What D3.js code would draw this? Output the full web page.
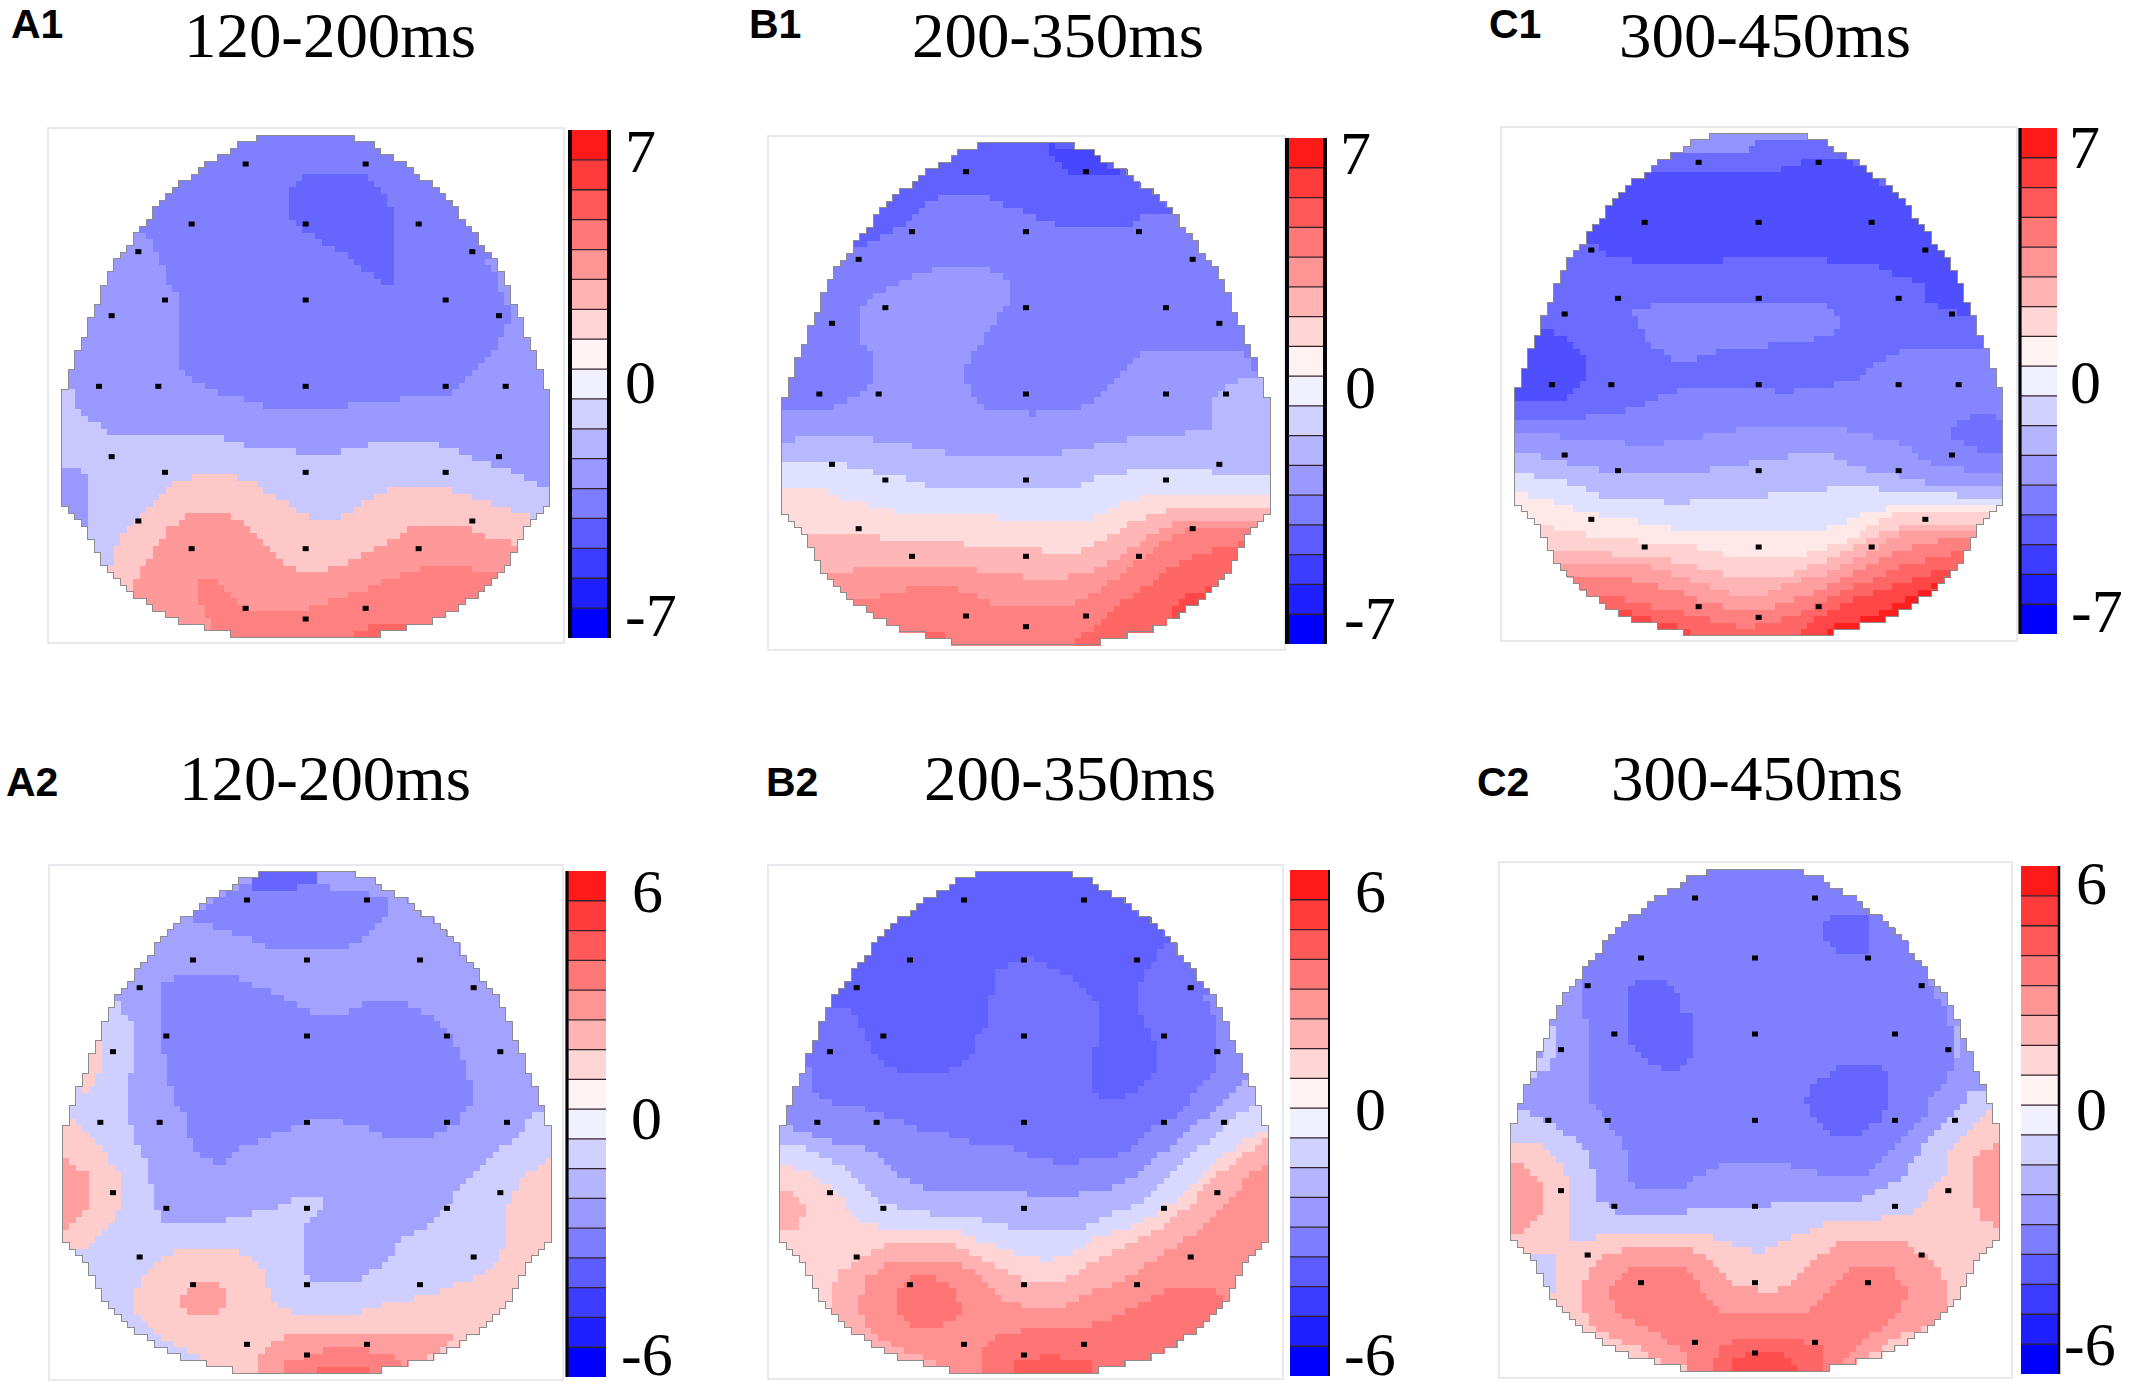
<!DOCTYPE html>
<html><head><meta charset="utf-8">
<script src="https://cdn.jsdelivr.net/npm/d3@7"></script>
<style>html,body{margin:0;padding:0;background:#fff;overflow:hidden}svg{display:block}</style>
</head><body><svg id="chart" width="2132" height="1390"></svg>
<script>
// ---------- values ----------
const panelIds = ["A1","B1","C1","A2","B2","C2"];
const panelTitles = ["120-200ms","200-350ms","300-450ms","120-200ms","200-350ms","300-450ms"];
const scaleTop = ["7","7","7","6","6","6"];
const scaleMid = ["0","0","0","0","0","0"];
const scaleBottom = ["-7","-7","-7","-6","-6","-6"];
// colour bar steps, % of scale maximum, top to bottom
const barLevels = [90,77,65,53,42,30,16,5,-6,-18,-29,-40,-51,-64,-76,-88,-100];
// scalp outline: [distance from vertex, half width]
const headOutline = [[0,89],[17,170],[33,210],[50,230],[82,292],[115,332],[165,389],[225,449],[255,469],[305,509],[340,529],[390,571],[420,590],[470,610],[520,630],[585,652],[615,670],[665,690],[730,710],[810,734],[1085,734],[1125,712],[1165,670],[1225,632],[1280,610],[1325,570],[1380,510],[1410,470],[1455,387],[1480,297],[1507,192]];
// electrodes: [offset from midline, distance from vertex]
const electrodes = [[-180,87],[180,87],[-342,267],[0,267],[339,267],[-502,350],[500,350],[-422,495],[0,495],[420,495],[-582,542],[580,542],[-620,754],[-442,754],[0,754],[420,754],[600,754],[-582,965],[580,965],[-422,1012],[0,1012],[420,1012],[-502,1158],[500,1158],[-342,1241],[0,1241],[339,1241],[-180,1420],[180,1420],[0,1452]];

// potential bands, painted in order: level in % of scale maximum and contour in scalp-plane units
const baseA1 = -40;
const bandsA1 = [
 [-50,[[100,310],[297,300],[297,330],[320,380],[355,420],[355,465],[378,480],[378,700],[420,745],[480,780],[555,800],[620,825],[740,838],[895,838],[895,825],[1035,825],[1035,810],[1195,790],[1260,740],[1320,680],[1355,620],[1360,590],[1378,575],[1378,535],[1355,510],[1350,440],[1300,390],[1400,400],[1400,-50],[100,-50]]],
 [-60,[[717,180],[760,145],[800,128],[915,128],[960,150],[1005,195],[1035,260],[1035,465],[1000,465],[960,430],[900,385],[840,350],[780,310],[717,265]]],
 [-21.5,[[0,770],[75,780],[75,830],[115,870],[155,890],[195,920],[515,920],[520,940],[735,955],[735,970],[875,970],[875,955],[1000,940],[1175,940],[1180,955],[1240,965],[1280,990],[1350,1010],[1440,1050],[1490,1070],[1560,1075],[1560,1600],[0,1600]]],
 [-40,[[33,1005],[70,1005],[100,1030],[113,1050],[113,1180],[75,1180],[33,1100]]],
 [21.5,[[175,1330],[195,1270],[215,1220],[260,1170],[310,1120],[350,1075],[400,1050],[450,1035],[550,1035],[620,1065],[680,1100],[730,1130],[780,1165],[870,1165],[925,1125],[980,1090],[1040,1070],[1175,1070],[1260,1095],[1330,1125],[1400,1145],[1440,1160],[1500,1170],[1500,1600],[100,1600],[100,1400]]],
 [40,[[250,1380],[275,1310],[320,1250],[355,1195],[400,1165],[440,1150],[530,1150],[590,1185],[640,1235],[680,1275],[720,1310],[780,1330],[815,1325],[890,1300],[960,1265],[1010,1240],[1060,1205],[1140,1180],[1240,1185],[1310,1220],[1380,1240],[1500,1240],[1500,1600],[200,1600]]],
 [50,[[435,1400],[435,1365],[465,1345],[495,1345],[530,1380],[560,1415],[590,1445],[750,1445],[840,1410],[940,1380],[1040,1340],[1120,1310],[1260,1310],[1300,1330],[1400,1330],[1400,1600],[490,1600],[480,1480],[470,1440]]],
 [60,[[895,1522],[940,1495],[1000,1475],[1115,1475],[1115,1600],[895,1600]]]
];
const baseB1 = -50;
const bandsB1 = [
 [-62,[[200,360],[255,350],[300,335],[380,300],[420,265],[480,215],[560,185],[620,185],[680,210],[720,230],[790,255],[840,280],[900,295],[1060,295],[1120,262],[1160,262],[1500,200],[1500,-50],[100,-50]]],
 [-72,[[840,40],[860,55],[935,55],[975,72],[1010,100],[1060,130],[1060,135],[900,135],[860,90],[840,70]]],
 [-40,[[277,530],[295,510],[335,480],[380,460],[460,430],[520,410],[640,410],[690,435],[717,460],[717,520],[680,565],[660,600],[640,620],[620,655],[600,690],[578,735],[600,790],[640,830],[680,850],[780,850],[790,862],[800,850],[880,850],[940,830],[1000,790],[1040,750],[1060,720],[1100,680],[1160,655],[1400,655],[1440,680],[1460,750],[1560,750],[1560,1010],[0,1010],[0,850],[155,850],[220,820],[255,800],[300,770],[318,740],[318,705],[300,655],[277,650]]],
 [-28,[[0,930],[75,930],[75,913],[295,913],[300,930],[415,935],[415,945],[480,960],[580,975],[875,975],[880,960],[975,960],[980,945],[1055,930],[1255,910],[1255,895],[1320,895],[1320,805],[1340,790],[1400,750],[1480,750],[1560,700],[1560,1600],[0,1600]]],
 [-12,[[0,995],[185,995],[240,1010],[300,1025],[415,1035],[415,1055],[520,1075],[935,1075],[940,1060],[1000,1040],[1080,1025],[1330,1025],[1340,1040],[1560,1040],[1560,1600],[0,1600]]],
 [13.7,[[0,1078],[145,1078],[220,1105],[340,1140],[440,1160],[680,1160],[690,1175],[950,1175],[1000,1145],[1100,1105],[1130,1090],[1560,1090],[1560,1600],[0,1600]]],
 [28.6,[[70,1205],[175,1205],[180,1220],[555,1225],[560,1240],[700,1250],[920,1270],[980,1240],[1030,1210],[1090,1175],[1180,1145],[1260,1125],[1350,1130],[1360,1140],[1560,1140],[1560,1600],[70,1600]]],
 [40,[[150,1340],[255,1320],[365,1305],[620,1320],[710,1330],[800,1350],[870,1345],[950,1330],[1040,1290],[1110,1240],[1180,1190],[1260,1170],[1560,1170],[1560,1600],[150,1600]]],
 [50,[[250,1420],[320,1400],[440,1370],[540,1370],[620,1400],[700,1435],[880,1435],[960,1400],[1060,1330],[1140,1270],[1200,1225],[1280,1190],[1420,1190],[1560,1180],[1560,1600],[250,1600]]],
 [60,[[895,1560],[930,1520],[1000,1470],[1040,1430],[1130,1370],[1190,1320],[1280,1270],[1400,1240],[1560,1240],[1560,1600]]],
 [60,[[435,1500],[515,1500],[540,1560],[435,1560]]],
 [72,[[1190,1470],[1240,1400],[1320,1370],[1400,1320],[1560,1300],[1560,1600],[1190,1600]]]
];
const baseC1 = -58;
const bandsC1 = [
 [-42,[[540,75],[730,75],[730,58],[850,42],[900,42],[900,-50],[500,-50]]],
 [-69,[[200,200],[425,135],[570,135],[570,152],[690,152],[690,135],[830,135],[830,120],[940,105],[1040,105],[1100,150],[1300,300],[1400,540],[1400,570],[1330,560],[1255,520],[1255,480],[1200,460],[1160,445],[1115,420],[970,415],[970,400],[650,400],[650,415],[430,415],[345,400],[290,380],[265,350],[200,360]]],
 [-69,[[85,640],[120,610],[180,640],[225,680],[245,710],[245,750],[225,770],[205,805],[165,825],[0,825],[0,640]]],
 [-47,[[388,560],[430,545],[550,530],[910,530],[970,545],[1010,580],[1010,610],[970,640],[810,645],[800,660],[710,665],[590,690],[570,705],[510,705],[470,670],[430,655],[400,600]]],
 [-48,[[1560,660],[1440,660],[1180,680],[1110,710],[1080,745],[1040,770],[850,800],[690,790],[530,790],[450,825],[350,860],[265,875],[170,885],[0,885],[0,1600],[1560,1600]]],
 [-56,[[1335,910],[1395,875],[1460,875],[1500,885],[1500,985],[1440,985],[1380,965],[1345,935]]],
 [-40,[[0,935],[165,935],[165,950],[365,950],[370,965],[470,965],[470,950],[570,940],[650,920],[790,905],[1030,905],[1035,920],[1150,945],[1200,965],[1250,1000],[1300,1020],[1500,1050],[1560,1050],[1560,1600],[0,1600]]],
 [-28,[[0,985],[105,985],[105,1000],[225,1020],[290,1035],[350,1050],[590,1050],[640,1020],[850,1005],[850,990],[990,990],[1000,1005],[1110,1040],[1230,1060],[1270,1075],[1370,1085],[1560,1085],[1560,1600],[0,1600]]],
 [-12,[[0,1035],[45,1050],[145,1055],[205,1080],[245,1095],[345,1130],[470,1130],[480,1145],[490,1135],[690,1120],[910,1100],[1010,1085],[1270,1100],[1375,1115],[1560,1120],[1560,1600],[0,1600]]],
 [9,[[0,1100],[45,1105],[130,1125],[210,1150],[290,1170],[400,1190],[500,1210],[700,1225],[910,1225],[1000,1200],[1095,1160],[1200,1140],[1370,1135],[1470,1145],[1560,1140],[1560,1600],[0,1600]]],
 [18,[[70,1200],[205,1215],[290,1245],[470,1250],[590,1270],[680,1295],[900,1290],[1000,1260],[1090,1210],[1180,1165],[1560,1170],[1560,1600],[70,1600]]],
 [29,[[120,1270],[225,1270],[330,1290],[470,1300],[560,1320],[630,1340],[710,1360],[830,1360],[930,1320],[1030,1280],[1120,1230],[1200,1200],[1280,1190],[1560,1190],[1560,1600],[120,1600]]],
 [38,[[160,1310],[300,1310],[430,1320],[490,1345],[570,1370],[710,1420],[770,1410],[830,1380],[950,1350],[1030,1310],[1110,1270],[1190,1225],[1320,1225],[1420,1210],[1560,1200],[1560,1600],[160,1600]]],
 [50,[[210,1360],[350,1360],[490,1390],[570,1420],[710,1460],[770,1450],[830,1440],[930,1400],[1010,1365],[1090,1320],[1170,1285],[1230,1260],[1350,1240],[1560,1235],[1560,1600],[210,1600]]],
 [60,[[280,1410],[350,1420],[470,1450],[570,1470],[710,1510],[820,1490],[930,1440],[1010,1400],[1090,1370],[1170,1330],[1240,1310],[1400,1270],[1560,1270],[1560,1600],[280,1600]]],
 [72,[[340,1450],[410,1475],[470,1490],[550,1510],[550,1600],[340,1600]]],
 [72,[[850,1560],[890,1510],[950,1470],[1030,1430],[1120,1400],[1240,1360],[1320,1330],[1560,1330],[1560,1600]]],
 [88,[[970,1510],[1030,1490],[1110,1470],[1170,1440],[1230,1410],[1290,1380],[1400,1380],[1400,1600],[970,1600]]]
];
const baseA2 = -36;
const bandsA2 = [
 [-48,[[415,155],[450,140],[500,100],[600,55],[780,55],[1020,100],[1020,125],[1000,170],[960,205],[920,235],[880,260],[720,260],[640,240],[600,225],[540,205],[500,185],[460,175]]],
 [-60,[[600,35],[680,10],[820,10],[800,45],[740,65],[740,80],[620,80]]],
 [-48,[[340,360],[380,325],[480,325],[480,340],[560,340],[620,365],[700,395],[780,440],[900,440],[900,425],[980,410],[1060,410],[1100,430],[1170,475],[1205,520],[1225,560],[1245,585],[1245,650],[1265,650],[1265,700],[1245,745],[1225,770],[1165,810],[1000,815],[960,790],[880,780],[880,765],[770,765],[720,790],[640,820],[580,845],[520,890],[480,890],[440,860],[420,820],[400,775],[400,740],[380,720],[360,665],[355,570],[340,560]]],
 [-19,[[0,400],[215,405],[220,455],[240,455],[255,510],[255,600],[238,640],[238,775],[258,830],[278,875],[300,910],[300,960],[318,965],[318,1030],[338,1075],[520,1075],[520,1060],[600,1045],[700,1020],[740,995],[820,990],[820,1040],[780,1060],[762,1095],[762,1220],[800,1250],[920,1250],[960,1225],[1000,1195],[1040,1170],[1040,1130],[1120,1090],[1200,1030],[1205,990],[1245,960],[1280,920],[1310,875],[1385,825],[1425,790],[1445,745],[1560,745],[1560,1600],[0,1600]]],
 [20,[[155,530],[155,610],[125,670],[95,680],[100,600],[130,530]]],
 [20,[[0,760],[65,760],[100,800],[155,850],[195,920],[218,930],[218,1020],[200,1050],[160,1100],[120,1140],[85,1155],[0,1155]]],
 [38,[[35,875],[55,890],[95,925],[115,930],[115,1035],[85,1055],[50,1085],[0,1085],[0,875]]],
 [20,[[1560,860],[1507,875],[1470,900],[1425,930],[1385,990],[1365,1050],[1365,1130],[1340,1190],[1310,1220],[1240,1250],[1160,1285],[1100,1300],[1000,1320],[900,1350],[780,1350],[700,1335],[660,1290],[640,1225],[600,1180],[540,1155],[400,1155],[340,1175],[300,1210],[258,1270],[258,1340],[290,1385],[330,1420],[400,1450],[460,1480],[500,1560],[1560,1560]]],
 [38,[[398,1290],[430,1255],[500,1255],[520,1275],[520,1330],[498,1350],[420,1350],[398,1330]]],
 [38,[[620,1560],[620,1470],[660,1435],[700,1415],[780,1400],[1120,1400],[1205,1415],[1180,1450],[1100,1490],[1060,1560]]],
 [50,[[700,1560],[700,1495],[760,1475],[840,1450],[940,1450],[1020,1470],[1060,1490],[1060,1510],[980,1560]]],
 [60,[[800,1515],[960,1515],[980,1560],[800,1560]]]
];
const baseB2 = -62;
const bandsB2 = [
 [-55,[[0,420],[190,420],[250,420],[250,440],[270,440],[270,490],[295,520],[310,570],[375,615],[530,615],[570,600],[610,565],[630,490],[650,490],[650,390],[675,390],[675,325],[730,290],[790,280],[880,325],[920,350],[970,395],[990,430],[990,550],[970,550],[970,670],[1000,700],[1060,700],[1110,670],[1150,620],[1170,600],[1172,540],[1145,510],[1110,450],[1110,360],[1155,280],[1175,240],[1560,240],[1560,1600],[0,1600]]],
 [-45,[[130,600],[130,680],[170,710],[260,725],[300,745],[380,760],[450,795],[550,815],[640,845],[730,850],[800,880],[870,895],[1010,880],[1090,850],[1160,780],[1220,750],[1280,680],[1330,620],[1330,460],[1310,420],[1300,390],[1560,390],[1560,1600],[0,1600],[0,600]]],
 [-30,[[0,780],[50,780],[90,800],[190,830],[270,840],[320,870],[380,920],[430,960],[490,975],[680,975],[790,990],[790,1005],[910,1005],[920,990],[1050,960],[1100,925],[1150,880],[1200,850],[1250,810],[1300,760],[1350,720],[1400,660],[1440,640],[1560,640],[1560,1600],[0,1600]]],
 [-15,[[0,845],[100,845],[160,880],[220,910],[270,950],[310,1000],[430,1040],[590,1055],[730,1090],[930,1090],[1000,1055],[1110,1020],[1180,960],[1230,900],[1300,840],[1360,790],[1430,730],[1560,730],[1560,1600],[0,1600]]],
 [17,[[0,890],[60,905],[130,930],[200,980],[240,1040],[290,1080],[400,1095],[560,1100],[640,1130],[760,1170],[830,1190],[900,1165],[1000,1110],[1120,1070],[1210,1010],[1270,960],[1320,900],[1400,840],[1470,805],[1560,800],[1560,1600],[0,1600]]],
 [31,[[35,975],[65,975],[108,1030],[90,1090],[35,1105],[0,1100],[0,975]]],
 [31,[[190,1260],[215,1220],[290,1170],[350,1140],[550,1140],[600,1165],[650,1190],[700,1220],[770,1250],[880,1250],[960,1200],[1010,1170],[1100,1130],[1180,1080],[1260,1020],[1320,950],[1400,880],[1480,830],[1560,820],[1560,1600],[300,1600],[190,1360]]],
 [43,[[270,1290],[290,1240],[370,1190],[550,1190],[640,1240],[700,1300],[780,1335],[870,1330],[950,1290],[1050,1250],[1150,1190],[1230,1130],[1310,1080],[1380,1000],[1440,930],[1560,860],[1560,1600],[540,1600],[500,1500],[420,1460],[340,1430],[290,1390],[270,1340]]],
 [54,[[375,1290],[420,1240],[490,1235],[550,1275],[570,1310],[570,1350],[520,1380],[430,1380],[375,1340]]],
 [54,[[632,1560],[632,1470],[660,1420],[760,1395],[860,1395],[950,1385],[1030,1360],[1100,1320],[1200,1270],[1335,1270],[1355,1300],[1380,1300],[1560,1250],[1560,1560]]],
 [64,[[730,1560],[730,1495],[810,1480],[810,1465],[870,1465],[870,1480],[930,1480],[970,1500],[975,1560]]]
];
const baseC2 = -50;
const bandsC2 = [
 [-60,[[960,180],[1000,140],[1090,140],[1100,160],[1100,250],[1075,270],[1000,270],[960,220]]],
 [-60,[[360,390],[400,340],[475,340],[520,390],[540,450],[558,450],[558,580],[520,610],[460,610],[420,590],[380,540],[360,460]]],
 [-60,[[900,715],[920,670],[980,615],[1020,598],[1120,598],[1160,630],[1160,700],[1120,770],[1060,808],[980,808],[920,750]]],
 [-40,[[238,340],[238,465],[258,465],[258,710],[300,760],[340,810],[340,860],[360,860],[360,920],[400,970],[540,970],[540,950],[640,905],[680,890],[860,890],[860,905],[940,905],[940,925],[1080,925],[1140,870],[1200,810],[1260,750],[1280,700],[1320,660],[1340,620],[1340,560],[1360,560],[1340,490],[1320,440],[1300,400],[1270,350],[1560,350],[1560,1600],[0,1600],[0,340]]],
 [-20,[[120,540],[150,480],[158,485],[158,560],[120,620],[80,640],[80,630]]],
 [-30,[[1340,490],[1360,490],[1360,580],[1345,580]]],
 [-20,[[0,750],[45,745],[80,745],[130,770],[175,800],[238,840],[258,900],[280,940],[280,1000],[340,1055],[540,1055],[540,1040],[680,1025],[800,1020],[800,1005],[1080,1000],[1180,950],[1220,900],[1260,840],[1300,790],[1340,750],[1400,680],[1560,680],[1560,1600],[0,1600]]],
 [20,[[0,825],[40,825],[120,845],[170,900],[200,950],[200,1130],[260,1120],[380,1105],[580,1105],[660,1130],[730,1150],[770,1168],[800,1150],[880,1110],[980,1070],[1120,1060],[1220,1040],[1260,1000],[1320,930],[1320,880],[1400,780],[1440,745],[1560,745],[1560,1600],[0,1600]]],
 [-20,[[80,1165],[158,1165],[158,1295],[130,1270],[100,1220]]],
 [38,[[20,890],[50,890],[95,935],[120,960],[120,1030],[50,1100],[0,1100],[0,890]]],
 [38,[[1480,825],[1420,870],[1400,910],[1400,1000],[1420,1050],[1480,1095],[1560,1095],[1560,825]]],
 [38,[[240,1240],[260,1215],[300,1175],[380,1150],[560,1150],[620,1190],[680,1250],[720,1270],[820,1280],[880,1230],[930,1180],[1000,1135],[1200,1135],[1260,1170],[1300,1210],[1320,1260],[1320,1330],[1260,1390],[1220,1400],[1140,1440],[1060,1490],[1040,1510],[960,1560],[560,1560],[540,1510],[470,1490],[400,1450],[280,1400],[240,1340]]],
 [50,[[320,1260],[350,1225],[400,1200],[520,1200],[580,1260],[660,1345],[910,1345],[980,1270],[1040,1215],[1160,1215],[1200,1265],[1200,1310],[1140,1380],[1080,1420],[1020,1480],[960,1520],[540,1520],[540,1470],[480,1420],[400,1380],[340,1340],[320,1300]]],
 [60,[[610,1560],[640,1450],[700,1415],[860,1415],[900,1430],[950,1440],[960,1520],[960,1560]]],
 [70,[[680,1560],[680,1490],[740,1460],[820,1460],[880,1500],[900,1560]]]
];
const bandSets = [bandsA1,bandsB1,bandsC1,bandsA2,bandsB2,bandsC2];
const bandBases = [baseA1,baseB1,baseC1,baseA2,baseB2,baseC2];

// ---------- layout ----------
const layout = [
 {ox:50,  oy:130, cx:767, top:15, frame:[48,128,564,643],   bar:[570,130,609,638],  leftLine:4, rightLine:4,
  label:[11,38], title:[184,56.5], ticks:[[625,172],[625,403],[625,636]]},
 {ox:770, oy:130, cx:768, top:38, frame:[768,136,1285,650], bar:[1287,138,1325,644],leftLine:4, rightLine:4,
  label:[749,38], title:[912,56.5], ticks:[[1340,174],[1345,408],[1344,639]]},
 {ox:1505,oy:125, cx:761, top:25, frame:[1501,127,2017,641],bar:[2020,128,2057,634],leftLine:3.2, rightLine:0,
  label:[1489,38], title:[1619,56.5], ticks:[[2069,168],[2070,403],[2071,632]]},
 {ox:50,  oy:865, cx:771, top:18, frame:[49,865,563,1380],  bar:[567,871,606,1377], leftLine:3.2, rightLine:0,
  label:[6,796], title:[179,800], ticks:[[632,912],[631,1139],[621,1375]]},
 {ox:770, oy:865, cx:762, top:18, frame:[768,865,1283,1379],bar:[1290,870,1329,1376],leftLine:0, rightLine:2,
  label:[766,796], title:[924,800], ticks:[[1355,912],[1355,1130],[1344,1375]]},
 {ox:1505,oy:865, cx:750, top:12, frame:[1499,862,2012,1378],bar:[2021,866,2059,1374],leftLine:0, rightLine:2.5,
  label:[1477,796], title:[1611,800], ticks:[[2076,904],[2076,1130],[2064,1365]]}
];
const CELLW = 19.53, CELLH = 19.57;

// ---------- drawing ----------
const svg = d3.select("#chart");
const color = d3.scaleLinear().domain([-100,0,100]).range(["#0000ff","#ffffff","#ff0000"]);

function halfWidth(dy){
  const i = d3.bisector(d=>d[0]).right(headOutline,dy);
  if(i<=0) return headOutline[0][1];
  if(i>=headOutline.length) return headOutline[headOutline.length-1][1];
  const a=headOutline[i-1], b=headOutline[i];
  return a[1]+(b[1]-a[1])*(dy-a[0])/(b[0]-a[0]);
}

panelIds.forEach((id,p)=>{
  const L = layout[p];
  const g = svg.append("g").attr("class","panel-"+id);
  const x = d3.scaleLinear().domain([0,1560]).range([L.ox,L.ox+520]);
  const y = d3.scaleLinear().domain([0,1560]).range([L.oy,L.oy+520]);

  g.append("rect").attr("x",L.frame[0]).attr("y",L.frame[1])
    .attr("width",L.frame[2]-L.frame[0]).attr("height",L.frame[3]-L.frame[1])
    .attr("fill","#fff").attr("stroke","#e3e4ea").attr("stroke-width",1.6);

  // level of a scalp position: last band whose contour contains it
  const bands = bandSets[p];
  const levelAt = (ux,uy)=>{
    let v = bandBases[p];
    bands.forEach(b=>{ if(d3.polygonContains(b[1],[ux,uy])) v=b[0]; });
    return v;
  };
  const rows = d3.range(77), cols = d3.range(-37,38);
  const runs = [], left = [], right = [];
  rows.forEach(r=>{
    const uy = L.top + (r+.5)*CELLH;
    const hw = halfWidth((r+.5)*CELLH);
    const inside = cols.filter(c=>Math.abs(c*CELLW)<=hw+CELLW*0.15);
    if(!inside.length) return;
    left.push([L.cx+(inside[0]-.5)*CELLW, L.top+r*CELLH]);
    right.push([L.cx+(inside[inside.length-1]+.5)*CELLW, L.top+r*CELLH]);
    let cur=null;
    inside.forEach(c=>{
      const v = levelAt(L.cx+c*CELLW,uy);
      if(cur && cur.v===v){ cur.c1=c; }
      else { cur={r,c0:c,c1:c,v}; runs.push(cur); }
    });
  });
  g.append("g").attr("shape-rendering","crispEdges").selectAll("rect").data(runs).join("rect")
    .attr("x",d=>x(L.cx+(d.c0-.5)*CELLW))
    .attr("y",d=>y(L.top+d.r*CELLH))
    .attr("width",d=>x(L.cx+(d.c1+.5)*CELLW)-x(L.cx+(d.c0-.5)*CELLW)+0.6)
    .attr("height",y(CELLH)-y(0)+0.6)
    .attr("fill",d=>color(d.v));

  // stair-step scalp outline
  const stair=(pts)=>{
    const out=[];
    pts.forEach(q=>{ out.push([x(q[0]),y(q[1])]); out.push([x(q[0]),y(q[1]+CELLH)]); });
    return out;
  };
  const outline = stair(left).concat(stair(right).reverse());
  g.append("path").attr("d",d3.line()(outline)+"Z").attr("fill","none")
    .attr("stroke","#8c8c8c").attr("stroke-width",1).attr("shape-rendering","crispEdges");

  // electrodes
  g.append("g").selectAll("rect").data(electrodes).join("rect")
    .attr("x",d=>x(L.cx+d[0]-9)).attr("y",d=>y(L.top+d[1]-7.5))
    .attr("width",x(18)-x(0)).attr("height",y(15)-y(0)).attr("fill","#000");

  // colour bar
  const barY = d3.scaleBand().domain(barLevels).range([L.bar[1],L.bar[3]]);
  const bar = g.append("g");
  bar.selectAll("rect").data(barLevels).join("rect")
    .attr("x",L.bar[0]).attr("y",d=>barY(d)).attr("width",L.bar[2]-L.bar[0]).attr("height",barY.bandwidth())
    .attr("fill",d=>color(d));
  bar.selectAll("line").data(barLevels.slice(1)).join("line")
    .attr("x1",L.bar[0]).attr("x2",L.bar[2]).attr("y1",d=>barY(d)).attr("y2",d=>barY(d))
    .attr("stroke","#33222a").attr("stroke-width",1.3);
  if(L.leftLine) bar.append("line").attr("x1",L.bar[0]).attr("x2",L.bar[0]).attr("y1",L.bar[1]).attr("y2",L.bar[3]).attr("stroke","#050508").attr("stroke-width",L.leftLine);
  if(L.rightLine) bar.append("line").attr("x1",L.bar[2]).attr("x2",L.bar[2]).attr("y1",L.bar[1]).attr("y2",L.bar[3]).attr("stroke","#050508").attr("stroke-width",L.rightLine);

  // texts
  g.append("text").attr("x",L.label[0]).attr("y",L.label[1]).text(id)
    .attr("font-family","Liberation Sans").attr("font-weight","700").attr("font-size",41).attr("fill","#000");
  g.append("text").attr("x",L.title[0]).attr("y",L.title[1]).text(panelTitles[p])
    .attr("font-family","Liberation Serif").attr("font-size",63)
    .attr("textLength",292).attr("lengthAdjust","spacingAndGlyphs").attr("fill","#000");
  [scaleTop[p],scaleMid[p],scaleBottom[p]].forEach((t,i)=>{
    g.append("text").attr("x",L.ticks[i][0]).attr("y",L.ticks[i][1]).text(t)
      .attr("font-family","Liberation Serif").attr("font-size",62).attr("fill","#000");
  });
});
</script></body></html>
